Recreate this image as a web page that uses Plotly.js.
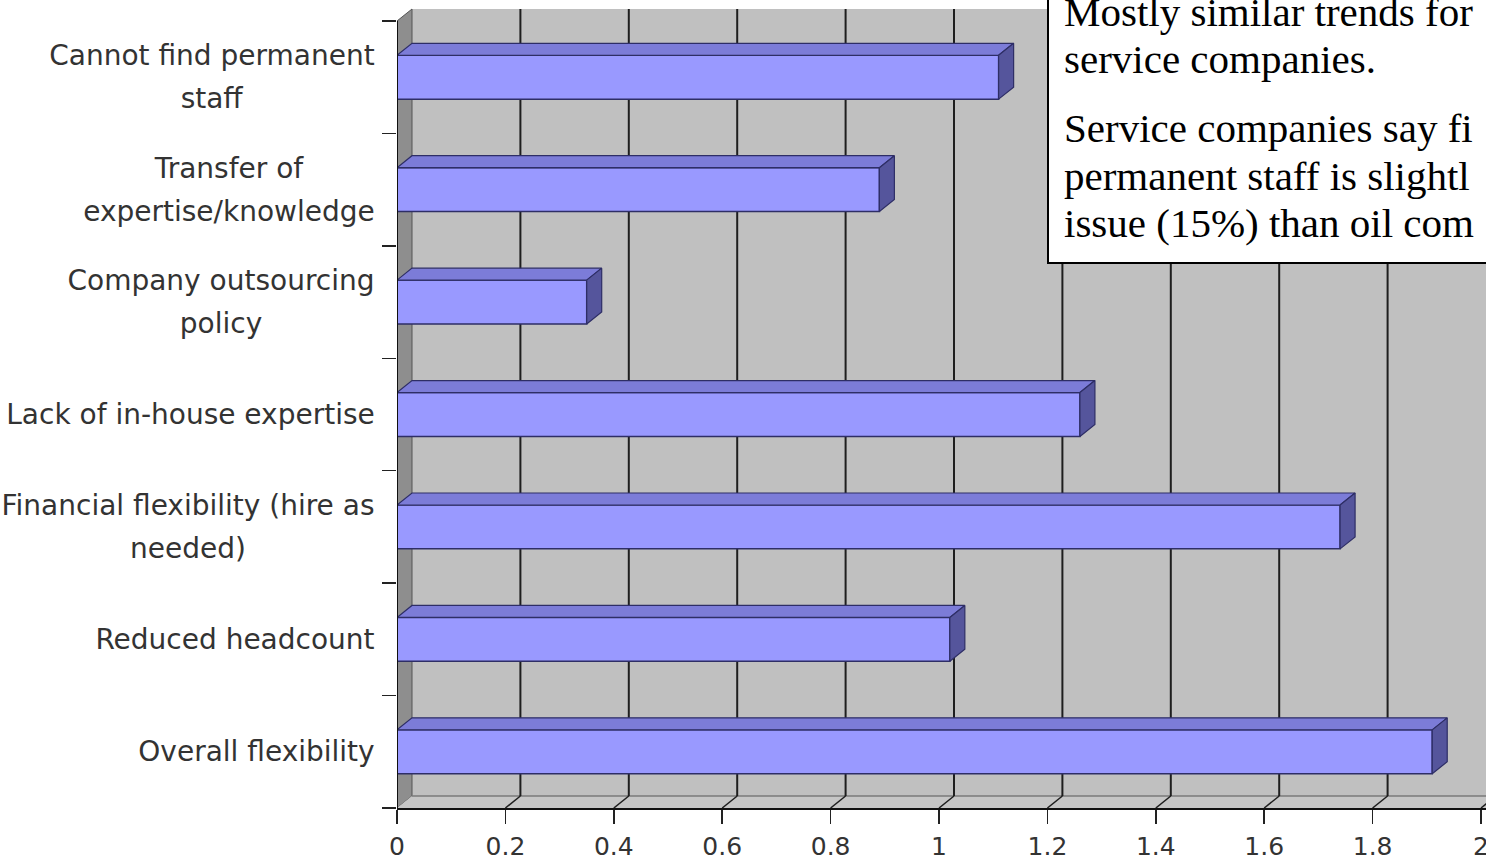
<!DOCTYPE html>
<html>
<head>
<meta charset="utf-8">
<script src="https://cdn.plot.ly/plotly-3.0.1.min.js"></script>
<style>
  html, body { margin: 0; padding: 0; background: #ffffff; }
  #chart { width: 1486px; height: 861px; }
</style>
</head>
<body>
<div id="chart"></div>
<script>
// Reasons listed top to bottom, with their scores
const categories = [
  "Cannot find permanent<br>staff",
  "Transfer of<br>expertise/knowledge",
  "Company outsourcing<br>policy",
  "Lack of in-house expertise",
  "Financial flexibility (hire as<br>needed)",
  "Reduced headcount",
  "Overall flexibility"
];
const values = [1.11, 0.89, 0.35, 1.26, 1.74, 1.02, 1.91];

// Value axis ticks
const xTickVals = [0, 0.2, 0.4, 0.6, 0.8, 1, 1.2, 1.4, 1.6, 1.8, 2];
const xTickText = ["0", "0.2", "0.4", "0.6", "0.8", "1", "1.2", "1.4", "1.6", "1.8", "2"];

// Note box text, one entry per line
const noteLines = [
  "Mostly similar trends for",
  "service companies.",
  "Service companies say fi",
  "permanent staff is slightl",
  "issue (15%) than oil com"
];
const noteCenters = [12, 59, 128, 176, 223]; // px from top of the figure

// ---- layout geometry ----
const W = 1486, H = 861;
const ML = 397, MB = 53;
const plotW = W - ML, plotH = H - MB;
const pxPerX = 542;
const xMax = plotW / pxPerX;
const n = categories.length;
const pxPerCat = 787 / n;
const yMin = -0.5;
const yMax = yMin + plotH / pxPerCat;

// 3-D depth offsets in data units
const DX = 15 / pxPerX;
const DY = 12 / pxPerCat;
const BAR_W = 0.39;

const yPos = categories.map((c, i) => n - 1 - i);

// top and side faces of each bar
const topX = [], topY = [], sideX = [], sideY = [];
values.forEach((v, i) => {
  const yc = yPos[i];
  const yt = yc + BAR_W / 2, yb = yc - BAR_W / 2;
  topX.push(0, DX, v + DX, v, 0, null);
  topY.push(yt, yt + DY, yt + DY, yt, yt, null);
  sideX.push(v, v + DX, v + DX, v, v, null);
  sideY.push(yt, yt + DY, yb + DY, yb, yt, null);
});

const edge = '#2e2e66';
const traces = [
  {
    type: 'bar', orientation: 'h',
    x: values, y: yPos, width: BAR_W,
    marker: { color: '#9999ff', line: { color: edge, width: 1.5 } },
    hoverinfo: 'skip'
  },
  {
    type: 'scatter', mode: 'lines', x: topX, y: topY,
    fill: 'toself', fillcolor: '#7c7cd8',
    line: { color: edge, width: 1.2 }, hoverinfo: 'skip'
  },
  {
    type: 'scatter', mode: 'lines', x: sideX, y: sideY,
    fill: 'toself', fillcolor: '#55559c',
    line: { color: edge, width: 1.2 }, hoverinfo: 'skip'
  }
];

// walls, floor and gridlines of the 3-D frame
const wallTop = (n - 0.5) + DY;
const floorBack = yMin + DY;
const shapes = [
  { type: 'rect', xref: 'x', yref: 'y', layer: 'below',
    x0: DX, x1: xMax + 0.1, y0: floorBack, y1: wallTop,
    fillcolor: '#c0c0c0', line: { width: 0 } },
  { type: 'path', xref: 'x', yref: 'y', layer: 'below',
    path: `M 0 ${yMin} L ${DX} ${floorBack} L ${DX} ${wallTop} L 0 ${n - 0.5} Z`,
    fillcolor: '#8e8e8e', line: { color: '#555555', width: 1 } },
  { type: 'path', xref: 'x', yref: 'y', layer: 'below',
    path: `M 0 ${yMin} L ${DX} ${floorBack} L ${xMax + 0.1} ${floorBack} L ${xMax + 0.1} ${yMin} Z`,
    fillcolor: '#c6c6c6', line: { width: 0 } },
  { type: 'line', xref: 'x', yref: 'y', layer: 'below',
    x0: DX, x1: xMax + 0.1, y0: floorBack, y1: floorBack,
    line: { color: '#7a7a7a', width: 1.5 } }
];
xTickVals.forEach(t => {
  if (t > 0) {
    shapes.push({ type: 'line', xref: 'x', yref: 'y', layer: 'below',
      x0: t + DX, x1: t + DX, y0: floorBack, y1: wallTop,
      line: { color: '#1e1e1e', width: 2 } });
    shapes.push({ type: 'line', xref: 'x', yref: 'y', layer: 'below',
      x0: t, x1: t + DX, y0: yMin, y1: floorBack,
      line: { color: '#1e1e1e', width: 1.5 } });
  }
});
// category axis line
shapes.push({ type: 'line', xref: 'x', yref: 'y', layer: 'above',
  x0: 0, x1: 0, y0: yMin, y1: n - 0.5,
  line: { color: '#111111', width: 2 } });
// note box
shapes.push({ type: 'rect', xref: 'paper', yref: 'paper', layer: 'above',
  x0: (1048 - ML) / plotW, x1: 1.05,
  y0: (plotH - 263) / plotH, y1: 1.05,
  fillcolor: '#ffffff', line: { color: '#000000', width: 2 } });

// category labels: lines centred on each other, block right-aligned to the axis
const LABEL_FONT = { family: 'DejaVu Sans, Verdana, sans-serif', size: 28, color: '#333333' };
const LABEL_LINE_PX = 43;
const measureCtx = document.createElement('canvas').getContext('2d');
measureCtx.font = '28px "DejaVu Sans", Verdana, sans-serif';

const annotations = [];
categories.forEach((c, i) => {
  const lines = c.split('<br>');
  const blockW = Math.max(...lines.map(l => measureCtx.measureText(l).width));
  lines.forEach((line, j) => {
    annotations.push({
      text: line, x: 0, y: yPos[i], xref: 'x', yref: 'y',
      xanchor: 'right', yanchor: 'middle', align: 'center',
      width: Math.ceil(blockW) + 2,
      xshift: -19, yshift: ((lines.length - 1) / 2 - j) * LABEL_LINE_PX,
      showarrow: false, font: LABEL_FONT
    });
  });
});
noteLines.forEach((t, i) => {
  annotations.push({
    text: t, xref: 'paper', yref: 'paper',
    x: (1062 - ML) / plotW, y: (plotH - noteCenters[i]) / plotH,
    xanchor: 'left', yanchor: 'middle', align: 'left', showarrow: false,
    font: { family: 'Liberation Serif, Times New Roman, serif', size: 41, color: '#000000' }
  });
});

const layout = {
  width: W, height: H,
  margin: { l: ML, r: 0, t: 0, b: MB, pad: 0 },
  paper_bgcolor: '#ffffff', plot_bgcolor: '#ffffff',
  showlegend: false,
  bargap: 0,
  xaxis: {
    range: [0, xMax], tickvals: xTickVals, ticktext: xTickText,
    showgrid: false, zeroline: false,
    showline: true, linecolor: '#111111', linewidth: 2,
    ticks: 'outside', ticklen: 14, tickwidth: 1.5, tickcolor: '#222222',
    ticklabelstandoff: 1, ticklabeloverflow: 'allow',
    tickfont: { family: 'DejaVu Sans, Verdana, sans-serif', size: 25, color: '#333333' },
    fixedrange: true
  },
  yaxis: {
    range: [yMin, yMax],
    tickvals: categories.map((c, i) => i - 0.5).concat([n - 0.5]),
    showticklabels: false,
    showgrid: false, zeroline: false, showline: false,
    ticks: 'outside', ticklen: 14, tickwidth: 1.5, tickcolor: '#222222',
    fixedrange: true
  },
  shapes: shapes,
  annotations: annotations
};

Plotly.newPlot('chart', traces, layout, { displayModeBar: false, staticPlot: true });
</script>
</body>
</html>
